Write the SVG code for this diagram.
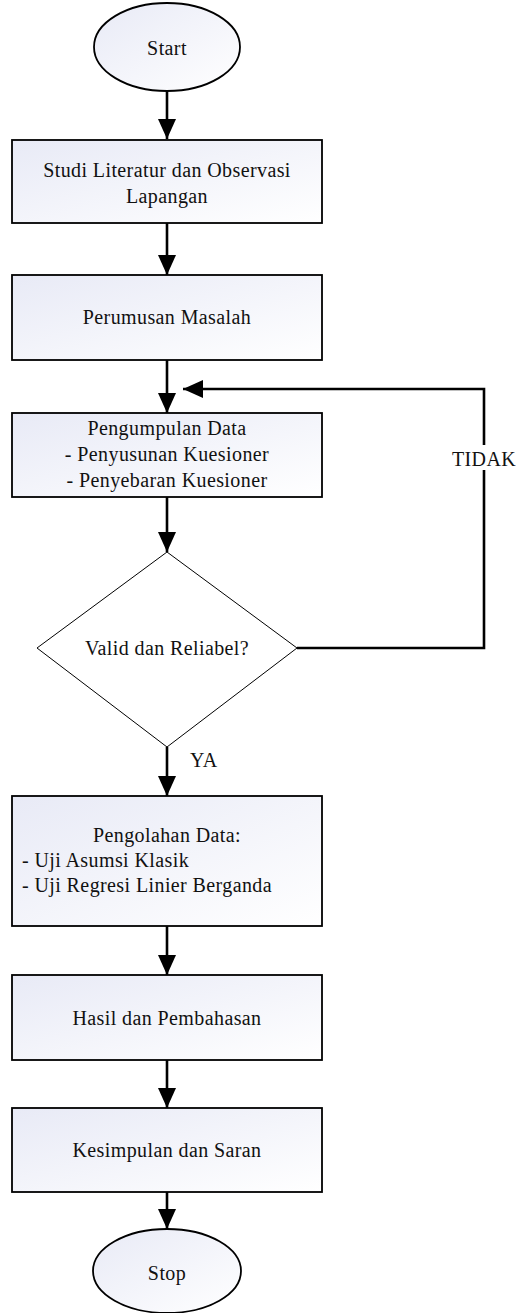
<svg xmlns="http://www.w3.org/2000/svg" width="517" height="1313" viewBox="0 0 517 1313">
<style>
.box{fill:url(#g);stroke:#000;stroke-width:1.8}
.term{fill:url(#g);stroke:#000;stroke-width:1.8}
.dec{fill:#fff;stroke:#000;stroke-width:1}
text{font-family:"Liberation Serif","Times New Roman",Tinos,"DejaVu Serif",serif;font-size:20px;fill:#111;letter-spacing:0.4px}
.c{text-anchor:middle}
.conn{fill:none;stroke:#000;stroke-width:2.6}
</style>
<defs>
<linearGradient id="g" x1="0" y1="0" x2="1" y2="1">
<stop offset="0" stop-color="#e8eaf6"/>
<stop offset="1" stop-color="#ffffff"/>
</linearGradient>
<marker id="ah" markerUnits="userSpaceOnUse" markerWidth="20" markerHeight="18" refX="20" refY="9" orient="auto" viewBox="0 0 20 18">
<path d="M0,0 L20,9 L0,18 z" fill="#000"/>
</marker>
</defs>
<rect width="517" height="1313" fill="#fff"/>
<g id="connectors">
<line class="conn" x1="167" y1="92" x2="167" y2="139" marker-end="url(#ah)"/>
<line class="conn" x1="167" y1="223" x2="167" y2="275" marker-end="url(#ah)"/>
<line class="conn" x1="167" y1="360" x2="167" y2="413" marker-end="url(#ah)"/>
<line class="conn" x1="167" y1="497" x2="167" y2="552" marker-end="url(#ah)"/>
<line class="conn" x1="167" y1="747" x2="167" y2="796" marker-end="url(#ah)"/>
<line class="conn" x1="167" y1="926" x2="167" y2="975" marker-end="url(#ah)"/>
<line class="conn" x1="167" y1="1060" x2="167" y2="1108" marker-end="url(#ah)"/>
<line class="conn" x1="167" y1="1192" x2="167" y2="1229" marker-end="url(#ah)"/>
<polyline class="conn" points="297,648 484,648 484,389 183,389" marker-end="url(#ah)"/>
<rect x="450" y="445" width="67" height="25" fill="#fff"/>
<text class="c" x="484" y="466">TIDAK</text>
<text x="190" y="767">YA</text>
</g>
<g id="start">
<ellipse class="term" cx="167" cy="47" rx="73" ry="44"/>
<text class="c" x="167" y="55">Start</text>
</g>
<g id="studi">
<rect class="box" x="12" y="140" width="310" height="83"/>
<text class="c" x="167" y="177">Studi Literatur dan Observasi</text>
<text class="c" x="167" y="203">Lapangan</text>
</g>
<g id="perumusan">
<rect class="box" x="12" y="275" width="310" height="85"/>
<text class="c" x="167" y="324">Perumusan Masalah</text>
</g>
<g id="pengumpulan">
<rect class="box" x="12" y="413" width="310" height="84"/>
<text class="c" x="167" y="435">Pengumpulan Data</text>
<text class="c" x="167" y="461">- Penyusunan Kuesioner</text>
<text class="c" x="167" y="487">- Penyebaran Kuesioner</text>
</g>
<g id="valid">
<polygon class="dec" points="167,552 297,648 167,747 37,648"/>
<text class="c" x="167" y="655">Valid dan Reliabel?</text>
</g>
<g id="pengolahan">
<rect class="box" x="12" y="796" width="310" height="130"/>
<text class="c" x="167" y="842">Pengolahan Data:</text>
<text x="22" y="867">- Uji Asumsi Klasik</text>
<text x="22" y="892">- Uji Regresi Linier Berganda</text>
</g>
<g id="hasil">
<rect class="box" x="12" y="975" width="310" height="85"/>
<text class="c" x="167" y="1025">Hasil dan Pembahasan</text>
</g>
<g id="kesimpulan">
<rect class="box" x="12" y="1108" width="310" height="84"/>
<text class="c" x="167" y="1157">Kesimpulan dan Saran</text>
</g>
<g id="stop">
<ellipse class="term" cx="167" cy="1271" rx="74" ry="42"/>
<text class="c" x="167" y="1280">Stop</text>
</g>
</svg>
